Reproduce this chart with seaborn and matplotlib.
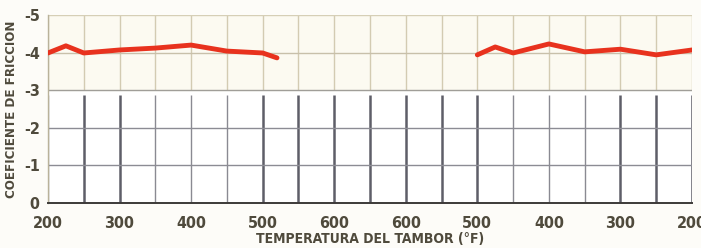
import numpy as np
import pandas as pd
import matplotlib
matplotlib.use("Agg")
import matplotlib.pyplot as plt
import seaborn as sns

# tick labels along the temperature axis (ramp up then down)
temp_labels = ["200", "300", "400", "500", "600", "600", "500", "400", "300", "200"]

# heating segment
heat_x = [0.0, 0.25, 0.5, 1.0, 1.5, 2.0, 2.5, 3.0, 3.2]
heat_y = [-3.99, -4.18, -3.99, -4.07, -4.12, -4.20, -4.04, -3.99, -3.86]

# cooling segment
cool_x = [6.0, 6.25, 6.5, 7.0, 7.5, 8.0, 8.5, 9.0]
cool_y = [-3.94, -4.15, -3.99, -4.23, -4.02, -4.09, -3.94, -4.07]

y_ticks = [0, -1, -2, -3, -4, -5]

df = pd.concat([
    pd.DataFrame({"x": heat_x, "y": heat_y, "tramo": "calentamiento"}),
    pd.DataFrame({"x": cool_x, "y": cool_y, "tramo": "enfriamiento"}),
])

sns.set_style("white")
font = ["DejaVu Sans"]
txt_color = "#4f4a3c"

fig = plt.figure(figsize=(7.01, 2.48), dpi=100, facecolor="#fdfcf8")
ax = fig.add_axes([48 / 701, 45 / 248, 644 / 701, 188 / 248])
ax.set_facecolor("white")

ax.set_xlim(0, 9)
ax.set_ylim(0, -5)

# faint cream band in the upper part of the chart
ax.axhspan(-3, -5, color="#fcfaf1", zorder=0)

# vertical grid, every 50 degrees
grid_x = np.arange(0, 9.01, 0.5)
heavy = [0.5, 1.0, 3.0, 3.5, 4.0, 4.5, 5.0, 5.5, 6.0, 8.0, 8.5, 9.0]
for gx in grid_x:
    ax.vlines(gx, -3, -5, color="#d3cbb2", lw=1.0, zorder=1)
    if gx in heavy:
        ax.vlines(gx, 0, -2.88, color="#5e5e68", lw=1.8, zorder=1)
    else:
        ax.vlines(gx, 0, -2.88, color="#8a8a92", lw=1.0, zorder=1)

# horizontal grid
ax.axhline(-4, color="#c8c0aa", lw=1.0, zorder=1)
ax.axhline(-3, color="#a09e98", lw=1.0, zorder=1)
for gy in [-1, -2]:
    ax.axhline(gy, color="#8c8c94", lw=1.0, zorder=1)

sns.lineplot(data=df, x="x", y="y", hue="tramo", units="tramo", estimator=None,
             palette=["#e8321e", "#e8321e"], lw=3.5, legend=False, ax=ax,
             sort=False, zorder=3)

for side in ["top", "right"]:
    ax.spines[side].set_visible(False)
ax.spines["left"].set_color("#b9b29a")
ax.spines["left"].set_linewidth(1.0)
ax.spines["bottom"].set_color("#3c3a38")
ax.spines["bottom"].set_linewidth(1.4)
ax.axhline(-5, color="#d6cfb6", lw=1.0, zorder=1)

ax.set_xticks(np.arange(len(temp_labels)))
ax.set_xticklabels(temp_labels)
ax.set_yticks(y_ticks)
ax.set_yticklabels([str(v) for v in y_ticks])
ax.tick_params(axis="both", length=0, labelsize=11.5, colors=txt_color)
ax.tick_params(axis="x", pad=9)
ax.tick_params(axis="y", pad=6)
for lab in ax.get_xticklabels() + ax.get_yticklabels():
    lab.set_family(font)
    lab.set_stretch("condensed")
    lab.set_fontweight("bold")

ax.set_xlabel("TEMPERATURA DEL TAMBOR (°F)", family=font, stretch="condensed",
              fontweight="bold", fontsize=10, color=txt_color, labelpad=1)
ax.set_ylabel("COEFICIENTE DE FRICCION", family=font, stretch="condensed",
              fontweight="bold", fontsize=9.5, color=txt_color, labelpad=4)

plt.savefig("out.png", dpi=100, facecolor=fig.get_facecolor())
